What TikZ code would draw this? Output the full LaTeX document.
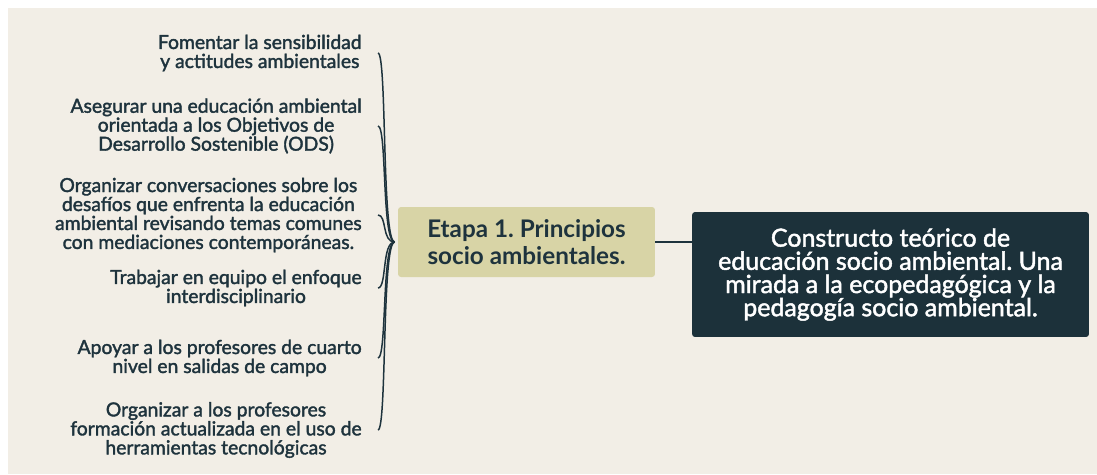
\documentclass[tikz,border=0pt]{standalone}
\usepackage{fontspec}
\setmainfont{Lato}
\newfontfamily\medio[FakeBold=1.8]{Lato}
\frenchspacing
\definecolor{tinta}{HTML}{1E333D}
\definecolor{papel}{HTML}{F2EEE6}
\definecolor{oliva}{HTML}{D8D4A6}
\definecolor{pizarra}{HTML}{1C313A}
\tikzset{
  objetivo/.style={anchor=east, align=center, text=tinta, inner xsep=0.32cm,
    inner ysep=0pt, font=\medio\fontsize{11}{10.8}\selectfont},
  etapabox/.style={fill=oliva, rounded corners=0.06cm, text=tinta, align=center,
    minimum width=5.14cm, minimum height=1.4cm, font=\bfseries\fontsize{13.8}{15.4}\selectfont},
  temabox/.style={fill=pizarra, rounded corners=0.06cm, text=white, align=center,
    minimum width=7.94cm, minimum height=2.5cm, font=\medio\fontsize{14.2}{13.2}\selectfont},
  llave/.style={draw=tinta, line width=0.85pt},
}

\begin{document}
\begin{tikzpicture}[x=0.02cm, y=-0.02cm]
    % fondo de papel
    \fill[white] (0,0) rectangle (1097,474);
    \fill[papel] (8,8) rectangle (1097,474);
    \useasboundingbox (0,0) rectangle (1097,474);
    % cajas centrales
    \node[etapabox] (etapa) at (526.5,242) {Etapa 1. Principios\\socio ambientales.};
    \node[temabox] (tema) at (890.5,274.5)
      {Constructo teórico de\\educación socio ambiental. Una\\mirada a la ecopedagógica y la\\pedagogía socio ambiental.};
    \draw[llave] (etapa.east) -- (etapa.east -| tema.west);
    \coordinate (punta) at ([xshift=-0.06cm]etapa.west);
    % objetivos de la etapa
    \foreach \i/\y/\t in {
        1/53/{Fomentar la sensibilidad\\y actitudes ambientales},
        2/126/{Asegurar una educación ambiental\\orientada a los Objetivos de\\Desarrollo Sostenible (ODS)},
        3/215/{Organizar conversaciones sobre los\\desafíos que enfrenta la educación\\ambiental revisando temas comunes\\con mediaciones contemporáneas.},
        4/288/{Trabajar en equipo el enfoque\\interdisciplinario},
        5/358/{Apoyar a los profesores de cuarto\\nivel en salidas de campo},
        6/430/{Organizar a los profesores\\formación actualizada en el uso de\\herramientas tecnológicas}} {
      \node[objetivo] (p\i) at (378,\y) {\t};                  % texto del objetivo
      \draw[llave] (p\i.east) .. controls +(9,0) and +(-13,0) .. (punta); % rama de la llave
    }
\end{tikzpicture}
\end{document}
